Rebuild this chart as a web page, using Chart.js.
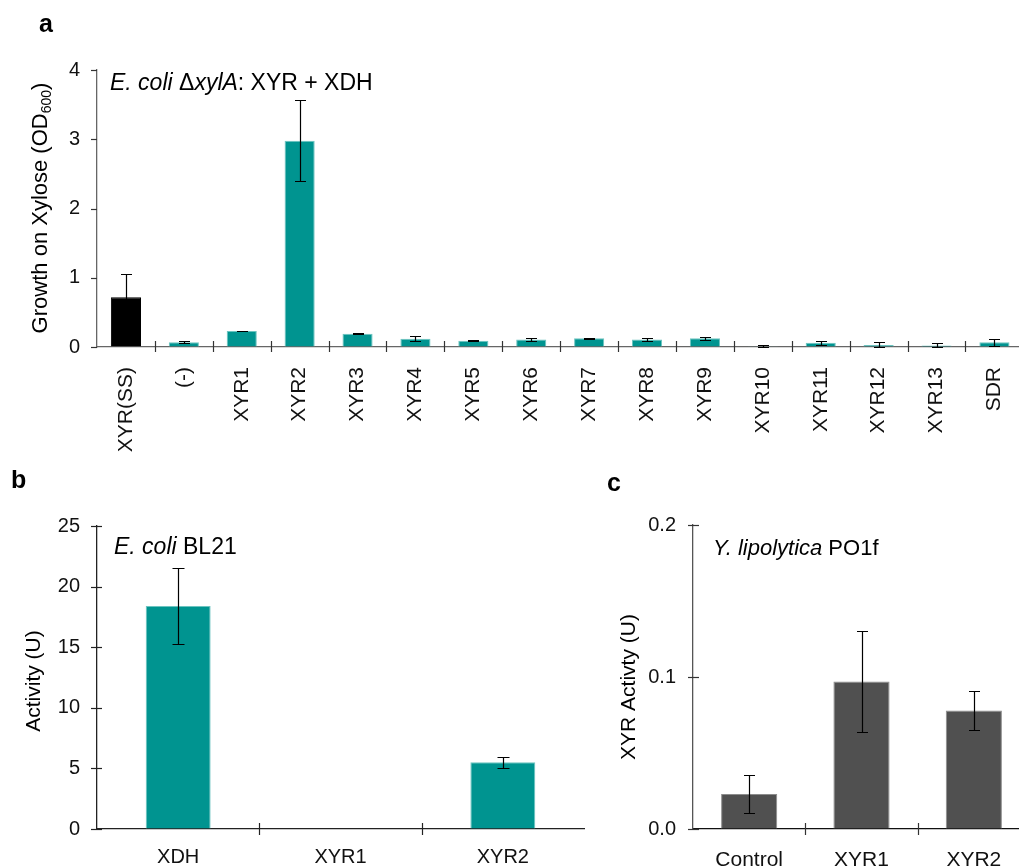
<!DOCTYPE html>
<html>
<head>
<meta charset="utf-8">
<title>XYR growth and activity</title>
<script src="https://cdn.jsdelivr.net/npm/chart.js@4.4.1/dist/chart.umd.min.js"></script>
<style>
  html, body { margin: 0; padding: 0; background: #fff; overflow: hidden; width: 1019px; height: 867px; }
  .panel { position: absolute; }
</style>
</head>
<body>
<div class="panel" style="left:0;top:0;width:1040px;height:470px"><canvas id="chartA"></canvas></div>
<div class="panel" style="left:0;top:470px;width:600px;height:397px"><canvas id="chartB"></canvas></div>
<div class="panel" style="left:600px;top:470px;width:440px;height:397px"><canvas id="chartC"></canvas></div>
<script>
// Panel a: growth of E. coli dxylA on xylose
const growthLabels = ['XYR(SS)', '(-)', 'XYR1', 'XYR2', 'XYR3', 'XYR4', 'XYR5', 'XYR6',
  'XYR7', 'XYR8', 'XYR9', 'XYR10', 'XYR11', 'XYR12', 'XYR13', 'SDR'];
const growthMean = [0.72, 0.07, 0.23, 2.98, 0.19, 0.12, 0.09, 0.11, 0.126, 0.107, 0.126, 0.01, 0.06, 0.03, 0.02, 0.07];
const growthErr = [0.34, 0.015, 0.006, 0.59, 0.006, 0.036, 0.01, 0.02, 0.008, 0.025, 0.025, 0.02, 0.03, 0.035, 0.04, 0.05];

// Panel b: activity in E. coli BL21
const bl21Labels = ['XDH', 'XYR1', 'XYR2'];
const bl21Mean = [18.4, 0.05, 5.5];
const bl21Err = [3.1, 0, 0.48];

// Panel c: XYR activity in Y. lipolytica PO1f
const ylipLabels = ['Control', 'XYR1', 'XYR2'];
const ylipMean = [0.023, 0.097, 0.078];
const ylipErr = [0.0125, 0.033, 0.0128];

const FONT = "'Liberation Sans', Arial, Helvetica, sans-serif";
Chart.defaults.font.family = FONT;
Chart.defaults.font.size = 20;
Chart.defaults.color = '#111';
Chart.defaults.animation = false;

const TEAL = '#009490';

function fontFor(p, size) {
  return (p.italic ? 'italic ' : '') + (p.bold ? 'bold ' : '') + Math.round(p.sub ? size * 0.62 : size) + 'px ' + FONT;
}

// writes a run of mixed italic / subscript pieces starting at x (or centred on x)
function drawRich(ctx, parts, x, y, size, centred) {
  let total = 0;
  parts.forEach(p => { ctx.font = fontFor(p, size); p.w = ctx.measureText(p.t).width; total += p.w; });
  let cx = centred ? x - total / 2 : x;
  parts.forEach(p => {
    ctx.font = fontFor(p, size);
    ctx.fillText(p.t, cx, y + (p.sub ? size * 0.28 : 0));
    cx += p.w;
  });
}

// error bars, ticks that cross the axes, panel letters and inline headings
const figureBits = {
  id: 'figureBits',
  afterDraw(chart, args, o) {
    const ctx = chart.ctx;
    const xs = chart.scales.x, ys = chart.scales.y;
    const area = chart.chartArea;
    ctx.save();

    ctx.lineWidth = 1.2;
    ctx.strokeStyle = o.tickColor;
    ys.ticks.forEach(t => {
      const py = Math.round(ys.getPixelForValue(t.value)) + 0.5;
      ctx.beginPath();
      ctx.moveTo(area.left - o.yTick[0], py);
      ctx.lineTo(area.left + o.yTick[1], py);
      ctx.stroke();
    });
    for (let i = 1; i < xs.ticks.length; i++) {
      const px = Math.round((xs.getPixelForValue(i - 1) + xs.getPixelForValue(i)) / 2) + 0.5;
      ctx.beginPath();
      ctx.moveTo(px, area.bottom - o.xTick[0]);
      ctx.lineTo(px, area.bottom + o.xTick[1]);
      ctx.stroke();
    }

    const meta = chart.getDatasetMeta(0);
    const means = chart.data.datasets[0].data;
    ctx.strokeStyle = '#000';
    ctx.lineWidth = 1.2;
    meta.data.forEach((bar, i) => {
      const e = o.errors[i];
      if (!e) return;
      const top = Math.round(ys.getPixelForValue(means[i] + e)) + 0.5;
      const bot = Math.round(ys.getPixelForValue(Math.max(means[i] - e, 0))) + 0.5;
      const cx = Math.round(bar.x) + 0.5;
      ctx.beginPath();
      ctx.moveTo(cx, top); ctx.lineTo(cx, bot);
      ctx.moveTo(cx - o.cap / 2, top); ctx.lineTo(cx + o.cap / 2, top);
      ctx.moveTo(cx - o.cap / 2, bot); ctx.lineTo(cx + o.cap / 2, bot);
      ctx.stroke();
    });

    ctx.fillStyle = '#000';
    ctx.textBaseline = 'alphabetic';
    ctx.textAlign = 'left';
    ctx.font = 'bold 25px ' + FONT;
    ctx.fillText(o.letter.t, o.letter.x, o.letter.y);

    drawRich(ctx, o.heading.parts, o.heading.x, o.heading.y, o.heading.size, false);

    ctx.save();
    ctx.translate(o.yTitle.x, o.yTitle.y);
    ctx.rotate(-Math.PI / 2);
    ctx.textBaseline = 'middle';
    drawRich(ctx, o.yTitle.parts, 0, 0, o.yTitle.size, true);
    ctx.restore();

    ctx.restore();
  }
};

function valueAxis(max, step, fmt, color, width) {
  return {
    min: 0,
    max: max,
    ticks: { stepSize: step, padding: 17, callback: fmt, color: '#111' },
    grid: { display: true, drawOnChartArea: false, drawTicks: false },
    border: { color: color, width: 1.3 },
    afterFit: s => { s.width = width; }
  };
}

function categoryAxis(color, height, padding, rotated, size) {
  return {
    ticks: {
      padding: padding,
      autoSkip: false,
      minRotation: rotated ? 90 : 0,
      maxRotation: rotated ? 90 : 0,
      color: '#111',
      font: { size: size }
    },
    grid: { display: true, drawOnChartArea: false, drawTicks: false },
    border: { color: color, width: 1.3 },
    afterFit: s => { s.height = height; }
  };
}

// panel a
new Chart(document.getElementById('chartA'), {
  type: 'bar',
  data: {
    labels: growthLabels,
    datasets: [{
      data: growthMean,
      backgroundColor: growthLabels.map((l, i) => i === 0 ? '#000' : TEAL),
      borderColor: growthLabels.map((l, i) => i === 0 ? '#000' : '#6cc4c0'),
      borderWidth: 1,
      barPercentage: 0.52,
      categoryPercentage: 1
    }]
  },
  options: {
    responsive: true,
    maintainAspectRatio: false,
    layout: { padding: { top: 70, right: 12, left: 0, bottom: 0 } },
    scales: {
      x: categoryAxis('#666', 123, 20, true, 21),
      y: valueAxis(4, 1, v => v, '#666', 97)
    },
    plugins: {
      legend: { display: false },
      tooltip: { enabled: false },
      figureBits: {
        errors: growthErr,
        cap: 11,
        tickColor: '#333',
        yTick: [6, 0],
        xTick: [6, 5],
        letter: { t: 'a', x: 39, y: 32 },
        heading: {
          x: 110, y: 90, size: 23,
          parts: [{ t: 'E. coli ', italic: true }, { t: '\u0394' }, { t: 'xylA', italic: true }, { t: ': XYR + XDH' }]
        },
        yTitle: {
          x: 41, y: 208, size: 22,
          parts: [{ t: 'Growth on Xylose (OD' }, { t: '600', sub: true }, { t: ')' }]
        }
      }
    }
  },
  plugins: [figureBits]
});

// panel b
new Chart(document.getElementById('chartB'), {
  type: 'bar',
  data: {
    labels: bl21Labels,
    datasets: [{
      data: bl21Mean,
      backgroundColor: TEAL,
      borderColor: '#6cc4c0',
      borderWidth: 1,
      barPercentage: 0.4,
      categoryPercentage: 1
    }]
  },
  options: {
    responsive: true,
    maintainAspectRatio: false,
    layout: { padding: { top: 56, right: 16, left: 0, bottom: 0 } },
    scales: {
      x: categoryAxis('#222', 38, 16, false, 20),
      y: valueAxis(25, 5, v => v, '#222', 97)
    },
    plugins: {
      legend: { display: false },
      tooltip: { enabled: false },
      figureBits: {
        errors: bl21Err,
        cap: 12,
        tickColor: '#222',
        yTick: [6, 5],
        xTick: [6, 6],
        letter: { t: 'b', x: 11, y: 18 },
        heading: {
          x: 114, y: 84, size: 23,
          parts: [{ t: 'E. coli ', italic: true }, { t: 'BL21' }]
        },
        yTitle: {
          x: 34, y: 211, size: 21,
          parts: [{ t: 'Activity (U)' }]
        }
      }
    }
  },
  plugins: [figureBits]
});

// panel c
new Chart(document.getElementById('chartC'), {
  type: 'bar',
  data: {
    labels: ylipLabels,
    datasets: [{
      data: ylipMean,
      backgroundColor: '#505050',
      borderColor: '#8c8c8c',
      borderWidth: 1,
      barPercentage: 0.5,
      categoryPercentage: 1
    }]
  },
  options: {
    responsive: true,
    maintainAspectRatio: false,
    layout: { padding: { top: 55, right: 10, left: 0, bottom: 0 } },
    scales: {
      x: categoryAxis('#111', 38, 19, false, 21),
      y: valueAxis(0.2, 0.1, v => v.toFixed(1), '#555', 93)
    },
    plugins: {
      legend: { display: false },
      tooltip: { enabled: false },
      figureBits: {
        errors: ylipErr,
        cap: 11,
        tickColor: '#333',
        yTick: [5, 6],
        xTick: [6, 6],
        letter: { t: 'c', x: 7, y: 21 },
        heading: {
          x: 113, y: 85, size: 22,
          parts: [{ t: 'Y. lipolytica ', italic: true }, { t: 'PO1f' }]
        },
        yTitle: {
          x: 29, y: 217, size: 21,
          parts: [{ t: 'XYR Activty (U)' }]
        }
      }
    }
  },
  plugins: [figureBits]
});
</script>
</body>
</html>
